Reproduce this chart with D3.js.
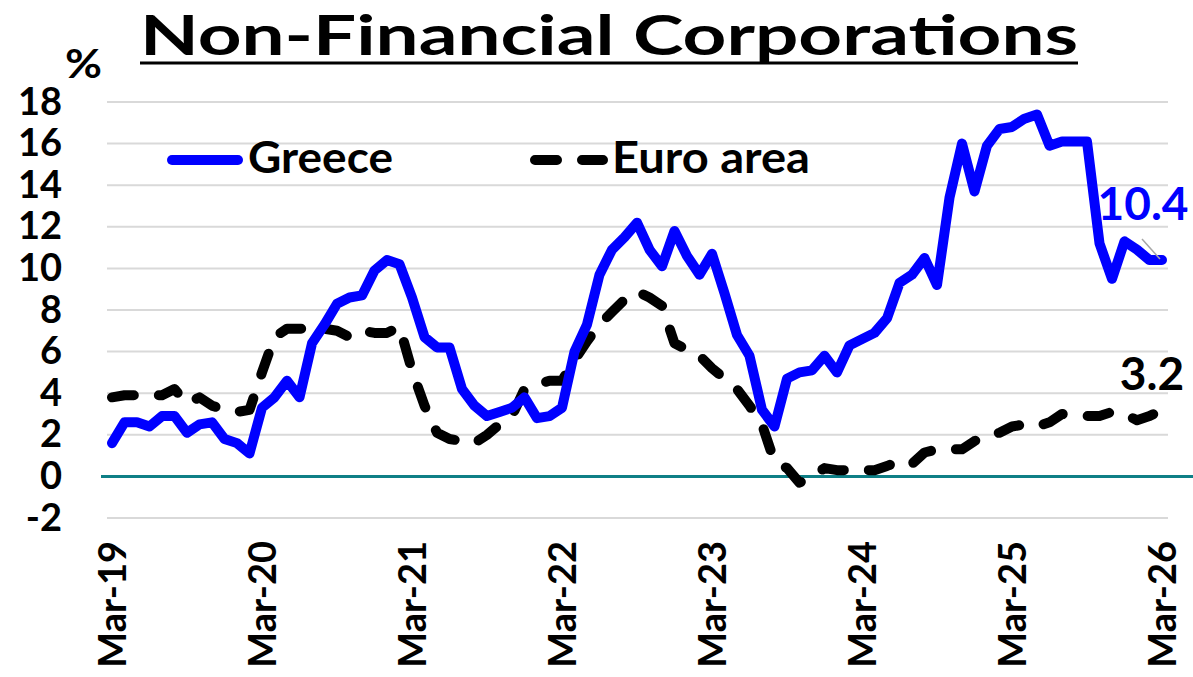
<!DOCTYPE html>
<html>
<head>
<meta charset="utf-8">
<script src="https://cdn.jsdelivr.net/npm/d3@7"></script>
<style>
  body { margin: 0; background: #fff; }
  svg text { font-family: Lato, "Open Sans", sans-serif; font-weight: bold; }
</style>
</head>
<body>
<div class="chart"></div>
<script>
// Monthly annual growth rates, Mar-19 .. Mar-26
const greece = [
  1.6, 2.6, 2.6, 2.4, 2.9, 2.9, 2.1, 2.5, 2.6, 1.8, 1.6, 1.1,
  3.3, 3.8, 4.6, 3.8, 6.4, 7.3, 8.3, 8.6, 8.7, 9.9, 10.4, 10.2,
  8.6, 6.7, 6.2, 6.2, 4.2, 3.4, 2.9, 3.1, 3.3, 3.8, 2.8, 2.9,
  3.3, 6.0, 7.3, 9.7, 10.9, 11.5, 12.2, 10.9, 10.1, 11.8, 10.6, 9.7,
  10.7, 8.8, 6.8, 5.8, 3.2, 2.4, 4.7, 5.0, 5.1, 5.8, 5.0, 6.3,
  6.6, 6.9, 7.6, 9.3, 9.7, 10.5, 9.2, 13.4, 16.0, 13.7, 15.9, 16.7,
  16.8, 17.2, 17.4, 15.9, 16.1, 16.1, 16.1, 11.2, 9.5, 11.3, 10.9, 10.4,
  10.4
];
const euroArea = [
  3.8, 3.9, 3.9, 3.9, 3.9, 4.2, 3.5, 3.8, 3.4, 3.2, 3.1, 3.2,
  5.0, 6.7, 7.1, 7.1, 7.1, 7.1, 7.0, 6.7, 7.0, 6.9, 6.9, 7.2,
  5.1, 3.4, 2.1, 1.8, 1.7, 1.6, 2.0, 2.5, 2.9, 4.2, 4.4, 4.6,
  4.6, 5.6, 6.5, 7.3, 7.9, 8.5, 8.9, 8.6, 8.2, 6.4, 6.1, 5.8,
  5.2, 4.7, 4.2, 3.4, 2.5, 0.7, 0.4, -0.3, 0.0, 0.4, 0.3, 0.3,
  0.3, 0.3, 0.5, 0.75, 0.6, 1.15, 1.3, 1.3, 1.3, 1.7, 2.0, 2.1,
  2.4, 2.5, 2.4, 2.6, 3.0, 2.95, 2.9, 2.9, 3.1, 3.0, 2.7, 2.9,
  3.2
];
const xTickLabels = ["Mar-19", "Mar-20", "Mar-21", "Mar-22", "Mar-23", "Mar-24", "Mar-25", "Mar-26"];
const yTicks = [-2, 0, 2, 4, 6, 8, 10, 12, 14, 16, 18];

const width = 1193;
const height = 677;

const svg = d3.select('.chart')
  .append('svg')
  .attr('width', width)
  .attr('height', height);

// scales: one step per month, ticks every 12 months
const xScale = d3.scaleLinear()
  .domain([0, greece.length - 1])
  .range([112, 1162]);

const yScale = d3.scaleLinear()
  .domain([-2, 18])
  .range([518, 102]);

// gridlines
svg.append('g')
  .selectAll('line')
  .data(yTicks.filter(d => d !== 0))
  .enter()
  .append('line')
  .attr('x1', 107)
  .attr('x2', 1168)
  .attr('y1', d => yScale(d))
  .attr('y2', d => yScale(d))
  .attr('stroke', '#d9d9d9')
  .attr('stroke-width', 2);

// zero line
svg.append('line')
  .attr('x1', 101)
  .attr('x2', 1193)
  .attr('y1', yScale(0))
  .attr('y2', yScale(0))
  .attr('stroke', '#0e7f86')
  .attr('stroke-width', 3);

// y axis labels (plain hyphen for negatives, like the original)
const yAxis = d3.axisLeft(yScale)
  .tickValues(yTicks)
  .tickFormat(d => String(d))
  .tickSize(0)
  .tickPadding(0);

const yg = svg.append('g')
  .attr('transform', 'translate(62,0)')
  .call(yAxis);
yg.select('.domain').remove();
yg.selectAll('text')
  .attr('font-size', 38)
  .attr('font-family', 'Lato, sans-serif')
  .attr('font-weight', 'bold')
  .attr('fill', '#000');

// x axis labels, rotated
const xAxis = d3.axisBottom(xScale)
  .tickValues(d3.range(0, greece.length, 12))
  .tickFormat((d, i) => xTickLabels[i])
  .tickSize(0)
  .tickPadding(0);

const xg = svg.append('g')
  .attr('transform', 'translate(0,541)')
  .call(xAxis);
xg.select('.domain').remove();
xg.selectAll('text')
  .attr('font-size', 38)
  .attr('font-family', 'Lato, sans-serif')
  .attr('font-weight', 'bold')
  .attr('fill', '#000')
  .attr('text-anchor', 'end')
  .attr('dy', '0.35em')
  .attr('transform', 'rotate(-90)')
  .attr('y', 0)
  .attr('x', 0);

// lines
const line = d3.line()
  .x((d, i) => xScale(i))
  .y(d => yScale(d));

svg.append('path')
  .datum(euroArea)
  .attr('d', line)
  .attr('fill', 'none')
  .attr('stroke', '#000')
  .attr('stroke-width', 10)
  .attr('stroke-linecap', 'round')
  .attr('stroke-linejoin', 'round')
  .attr('stroke-dasharray', '22,25');

svg.append('path')
  .datum(greece)
  .attr('d', line)
  .attr('fill', 'none')
  .attr('stroke', '#0000ff')
  .attr('stroke-width', 10)
  .attr('stroke-linecap', 'round')
  .attr('stroke-linejoin', 'round');

// title
svg.append('text')
  .attr('x', 140)
  .attr('y', 55)
  .attr('textLength', 938)
  .attr('lengthAdjust', 'spacingAndGlyphs')
  .attr('font-size', 55)
  .text('Non-Financial Corporations');

svg.append('line')
  .attr('x1', 140)
  .attr('x2', 1078)
  .attr('y1', 63)
  .attr('y2', 63)
  .attr('stroke', '#000')
  .attr('stroke-width', 3);

svg.append('text')
  .attr('x', 65)
  .attr('y', 78)
  .attr('font-size', 40)
  .attr('textLength', 37)
  .attr('lengthAdjust', 'spacingAndGlyphs')
  .text('%');

// legend
svg.append('line')
  .attr('x1', 172)
  .attr('x2', 238)
  .attr('y1', 160)
  .attr('y2', 160)
  .attr('stroke', '#0000ff')
  .attr('stroke-width', 10)
  .attr('stroke-linecap', 'round');

svg.append('text')
  .attr('x', 248)
  .attr('y', 173)
  .attr('font-size', 44)
  .attr('textLength', 145)
  .attr('lengthAdjust', 'spacingAndGlyphs')
  .text('Greece');

svg.append('line')
  .attr('x1', 535)
  .attr('x2', 603)
  .attr('y1', 160)
  .attr('y2', 160)
  .attr('stroke', '#000')
  .attr('stroke-width', 10)
  .attr('stroke-linecap', 'round')
  .attr('stroke-dasharray', '22,25');

svg.append('text')
  .attr('x', 612)
  .attr('y', 173)
  .attr('font-size', 44)
  .attr('textLength', 198)
  .attr('lengthAdjust', 'spacingAndGlyphs')
  .text('Euro area');

// value labels
const last = greece.length - 1;

svg.append('line')
  .attr('x1', xScale(last) - 20)
  .attr('y1', yScale(greece[last]) - 21)
  .attr('x2', xScale(last) - 2)
  .attr('y2', yScale(greece[last]) - 1)
  .attr('stroke', '#a6a6a6')
  .attr('stroke-width', 1.5);

svg.append('text')
  .attr('x', xScale(last) - 19)
  .attr('y', yScale(greece[last]) - 40)
  .attr('text-anchor', 'middle')
  .attr('font-size', 46)
  .attr('fill', '#0000ff')
  .text(greece[last].toFixed(1));

svg.append('text')
  .attr('x', xScale(last) - 10)
  .attr('y', yScale(euroArea[last]) - 20)
  .attr('text-anchor', 'middle')
  .attr('font-size', 46)
  .attr('fill', '#000')
  .text(euroArea[last].toFixed(1));
</script>
</body>
</html>
